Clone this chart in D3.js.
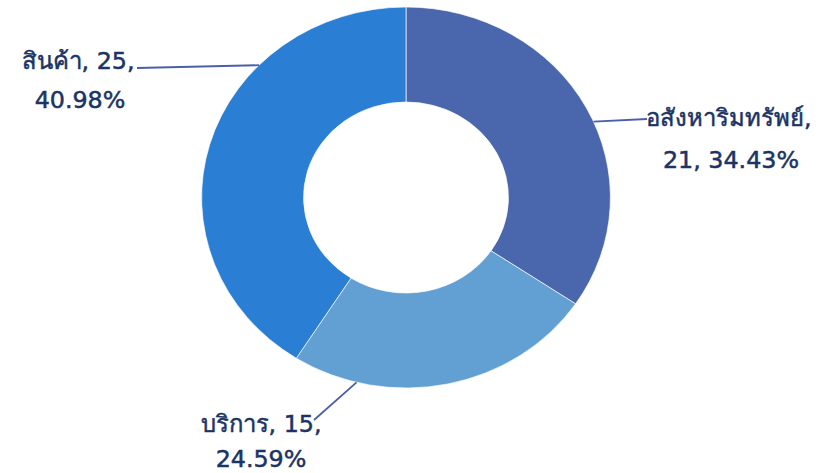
<!DOCTYPE html>
<html><head><meta charset="utf-8">
<script src="https://cdn.jsdelivr.net/npm/d3@7"></script>
<style>
html,body{margin:0;padding:0;background:#fff;}
svg{display:block;}
text{font-family:"DejaVu Sans","Noto Sans",Tahoma,sans-serif;}
</style></head>
<body>
<svg id="chart" width="840" height="473"></svg>
<script>
const categories = ["อสังหาริมทรัพย์", "บริการ", "สินค้า"];
const values = [21, 15, 25];
const percents = ["34.43%", "24.59%", "40.98%"];
const colors = ["#4A66AC", "#629FD2", "#2A7FD5"];

// label layout: angle (deg, clockwise from top) where leader touches ring, label anchor, line lines
const labelLayout = [
  {edgeDeg: 66.5, lineEnd: [647, 119], lines: [[646, 126, "start"], [731, 168, "middle"]], split: 1},
  {edgeDeg: 194,  lineEnd: [314, 420], lines: [[261, 432, "middle"], [261, 467, "middle"]], split: 2},
  {edgeDeg: 314,  lineEnd: [137, 68],  lines: [[78, 69, "middle"], [80, 108, "middle"]], split: 2}
];

const svg = d3.select("#chart");
const cx = 406, cy = 197.5, ry = 190.5, rIn = 95.5, sx = 1.073;

const pie = d3.pie().sort(null).value(d => d);
const arcs = pie(values);
const arc = d3.arc().innerRadius(rIn).outerRadius(ry);

const g = svg.append("g").attr("transform", `translate(${cx},${cy}) scale(${sx},1)`);
g.selectAll("path").data(arcs).join("path")
  .attr("d", arc)
  .attr("fill", (d, i) => colors[i])
  .attr("stroke", "#ffffff")
  .attr("stroke-width", 0.8)
  .attr("stroke-opacity", 0.8);

const textColor = "#1B3464";
labelLayout.forEach((L, i) => {
  const a = L.edgeDeg * Math.PI / 180;
  const x0 = cx + ry * sx * Math.sin(a), y0 = cy - ry * Math.cos(a);
  svg.append("line")
    .attr("x1", x0).attr("y1", y0)
    .attr("x2", L.lineEnd[0]).attr("y2", L.lineEnd[1])
    .attr("stroke", "#4A5FA8").attr("stroke-width", 1.8);
  const full = [categories[i] + ",", values[i] + ",", percents[i]];
  let parts;
  if (L.split === 1) parts = [full[0], full[1] + " " + full[2]];
  else parts = [full[0] + " " + full[1], full[2]];
  parts.forEach((t, k) => {
    svg.append("text")
      .attr("x", L.lines[k][0]).attr("y", L.lines[k][1])
      .attr("text-anchor", L.lines[k][2])
      .attr("fill", textColor)
      .attr("stroke", textColor)
      .attr("stroke-width", 0.5)
      .attr("font-size", 23.8)
      .text(t);
  });
});
</script>
</body></html>
